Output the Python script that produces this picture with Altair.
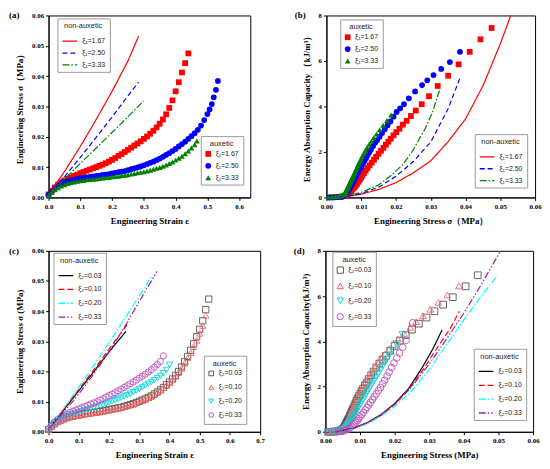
import altair as alt
import pandas as pd

SERIF = "Liberation Serif"
SANS = "Liberation Sans"

XI1 = ["ξ₁=1.67", "ξ₁=2.50", "ξ₁=3.33"]
XI2 = ["ξ₂=0.03", "ξ₂=0.10", "ξ₂=0.20", "ξ₂=0.33"]

STRAIN = [0.00, 0.01, 0.02, 0.03, 0.04, 0.05, 0.06, 0.07, 0.08, 0.09,
          0.10, 0.11, 0.12, 0.13, 0.14, 0.15, 0.16, 0.17, 0.18, 0.19,
          0.20, 0.21, 0.22, 0.23, 0.24, 0.25, 0.26, 0.27, 0.28, 0.29,
          0.30, 0.31, 0.32, 0.33, 0.34, 0.35, 0.36, 0.37, 0.38, 0.39,
          0.40, 0.41, 0.42, 0.43, 0.44, 0.45, 0.46, 0.47, 0.48, 0.49,
          0.50, 0.51, 0.52, 0.53]

# ---------------- (a) stress-strain, xi1 ----------------
a_line_167_x = [0.0, 0.05, 0.10, 0.15, 0.20, 0.25, 0.2835]
a_line_167_y = [0.0010, 0.0085, 0.0168, 0.0257, 0.0350, 0.0450, 0.0532]
a_line_250_x = [0.0, 0.05, 0.10, 0.15, 0.20, 0.25, 0.2835]
a_line_250_y = [0.0010, 0.0068, 0.0132, 0.0198, 0.0265, 0.0335, 0.0380]
a_line_333_x = [0.0, 0.05, 0.10, 0.15, 0.20, 0.25, 0.299]
a_line_333_y = [0.0010, 0.0060, 0.0112, 0.0163, 0.0214, 0.0266, 0.0318]

a_strain_167 = STRAIN[:45]
a_stress_167 = [0.0010, 0.0022, 0.0033, 0.0042, 0.0050, 0.0056, 0.0061, 0.0066, 0.0071, 0.0075,
                0.0080, 0.0084, 0.0088, 0.0092, 0.0096, 0.0100, 0.0104, 0.0108, 0.0113, 0.0118,
                0.0124, 0.0130, 0.0137, 0.0143, 0.0150, 0.0157, 0.0164, 0.0171, 0.0178, 0.0185,
                0.0193, 0.0201, 0.0210, 0.0220, 0.0231, 0.0243, 0.0257, 0.0274, 0.0295, 0.0320,
                0.0350, 0.0380, 0.0412, 0.0443, 0.0475]
a_strain_250 = STRAIN[:51] + [0.507, 0.514, 0.520, 0.527, 0.533]
a_stress_250 = [0.0008, 0.0020, 0.0030, 0.0038, 0.0044, 0.0049, 0.0053, 0.0056, 0.0059, 0.0061,
                0.0063, 0.0065, 0.0066, 0.0068, 0.0069, 0.0071, 0.0072, 0.0074, 0.0075, 0.0077,
                0.0079, 0.0081, 0.0083, 0.0085, 0.0087, 0.0090, 0.0093, 0.0096, 0.0099, 0.0102,
                0.0106, 0.0110, 0.0114, 0.0118, 0.0123, 0.0128, 0.0134, 0.0140, 0.0146, 0.0153,
                0.0160, 0.0168, 0.0176, 0.0184, 0.0193, 0.0202, 0.0212, 0.0223, 0.0237, 0.0255,
                0.0275, 0.0290, 0.0308, 0.0330, 0.0355, 0.0384]
a_strain_333 = STRAIN[:47] + [0.467]
a_stress_333 = [0.0006, 0.0016, 0.0025, 0.0032, 0.0038, 0.0042, 0.0046, 0.0049, 0.0051, 0.0053,
                0.0055, 0.0056, 0.0058, 0.0059, 0.0060, 0.0061, 0.0062, 0.0064, 0.0065, 0.0066,
                0.0068, 0.0069, 0.0070, 0.0072, 0.0073, 0.0075, 0.0077, 0.0079, 0.0081, 0.0083,
                0.0085, 0.0087, 0.0090, 0.0093, 0.0096, 0.0099, 0.0103, 0.0107, 0.0112, 0.0117,
                0.0123, 0.0129, 0.0136, 0.0144, 0.0153, 0.0163, 0.0174, 0.0186]

# ---------------- (b) energy-stress, xi1 ----------------
b_line_167_x = [0.004, 0.010, 0.015, 0.020, 0.025, 0.030, 0.035, 0.040, 0.045, 0.050, 0.053]
b_line_167_y = [0.00, 0.14, 0.35, 0.65, 1.08, 1.61, 2.45, 3.45, 4.90, 6.75, 8.00]
b_line_250_x = [0.004, 0.010, 0.015, 0.020, 0.025, 0.030, 0.035, 0.0385]
b_line_250_y = [0.00, 0.17, 0.45, 0.93, 1.58, 2.44, 3.90, 5.29]
b_line_333_x = [0.004, 0.010, 0.015, 0.0189, 0.022, 0.0246, 0.0283, 0.0305, 0.0326]
b_line_333_y = [0.00, 0.22, 0.55, 1.00, 1.45, 2.00, 3.00, 3.75, 4.74]

b_energy_167 = [0.00, 0.01, 0.02, 0.03, 0.06, 0.10, 0.15, 0.21, 0.28, 0.35,
                0.43, 0.51, 0.60, 0.69, 0.78, 0.87, 0.97, 1.07, 1.18, 1.29,
                1.41, 1.53, 1.66, 1.79, 1.92, 2.05, 2.18, 2.32, 2.45, 2.58,
                2.73, 2.87, 3.02, 3.20, 3.37, 3.58, 3.82, 4.10, 4.45, 4.90,
                5.35, 5.85, 6.40, 6.95, 7.45]
b_energy_250 = [0.00, 0.00, 0.01, 0.02, 0.03, 0.06, 0.10, 0.15, 0.21, 0.27,
                0.32, 0.37, 0.40, 0.45, 0.48, 0.53, 0.56, 0.62, 0.65, 0.71,
                0.77, 0.83, 0.89, 0.94, 1.00, 1.08, 1.16, 1.24, 1.32, 1.40,
                1.51, 1.62, 1.73, 1.84, 1.98, 2.10, 2.25, 2.40, 2.52, 2.67,
                2.83, 3.00, 3.17, 3.34, 3.55, 3.76, 3.92, 4.10, 4.36, 4.66,
                4.94, 5.15, 5.38, 5.65, 5.95, 6.40]
b_energy_333 = [0.02, 0.03, 0.04, 0.05, 0.06, 0.08, 0.11, 0.14, 0.17, 0.21,
                0.26, 0.29, 0.34, 0.37, 0.40, 0.44, 0.47, 0.53, 0.57, 0.60,
                0.67, 0.70, 0.74, 0.80, 0.83, 0.89, 0.96, 1.03, 1.09, 1.16,
                1.23, 1.30, 1.40, 1.50, 1.60, 1.69, 1.82, 1.93, 2.06, 2.19,
                2.34, 2.47, 2.62, 2.79, 2.97, 3.17, 3.38, 3.62]

# ---------------- (c) stress-strain, xi2 ----------------
c_line_003_x = [0.0, 0.05, 0.10, 0.15, 0.20, 0.256]
c_line_003_y = [0.0010, 0.0072, 0.0136, 0.0200, 0.0265, 0.0333]
c_line_010_x = [0.0, 0.05, 0.10, 0.15, 0.20, 0.267]
c_line_010_y = [0.0010, 0.0074, 0.0140, 0.0206, 0.0274, 0.0365]
c_line_020_x = [0.0, 0.05, 0.10, 0.15, 0.20, 0.25, 0.30, 0.340]
c_line_020_y = [0.0010, 0.0078, 0.0148, 0.0220, 0.0295, 0.0372, 0.0450, 0.0514]
c_line_033_x = [0.0, 0.05, 0.10, 0.15, 0.20, 0.25, 0.30, 0.359]
c_line_033_y = [0.0010, 0.0065, 0.0125, 0.0192, 0.0265, 0.0345, 0.0432, 0.0532]

c_strain_003 = STRAIN[:54]
c_stress_003 = [0.0008, 0.0018, 0.0027, 0.0034, 0.0039, 0.0043, 0.0047, 0.0050, 0.0052, 0.0054,
                0.0056, 0.0058, 0.0060, 0.0061, 0.0063, 0.0064, 0.0066, 0.0067, 0.0069, 0.0071,
                0.0073, 0.0075, 0.0077, 0.0079, 0.0081, 0.0084, 0.0087, 0.0090, 0.0093, 0.0097,
                0.0101, 0.0105, 0.0109, 0.0114, 0.0119, 0.0125, 0.0132, 0.0139, 0.0147, 0.0156,
                0.0165, 0.0175, 0.0187, 0.0200, 0.0215, 0.0232, 0.0250, 0.0270, 0.0292, 0.0315,
                0.0340, 0.0368, 0.0405, 0.0440]
c_strain_010 = STRAIN[:53]
c_stress_010 = [0.0007, 0.0017, 0.0026, 0.0033, 0.0038, 0.0042, 0.0046, 0.0049, 0.0051, 0.0053,
                0.0055, 0.0057, 0.0059, 0.0060, 0.0062, 0.0063, 0.0065, 0.0066, 0.0068, 0.0070,
                0.0072, 0.0074, 0.0076, 0.0078, 0.0080, 0.0083, 0.0086, 0.0089, 0.0092, 0.0096,
                0.0100, 0.0104, 0.0108, 0.0113, 0.0118, 0.0124, 0.0131, 0.0138, 0.0146, 0.0154,
                0.0163, 0.0173, 0.0184, 0.0196, 0.0210, 0.0227, 0.0245, 0.0262, 0.0282, 0.0303,
                0.0326, 0.0352, 0.0386]
c_strain_020 = STRAIN[:41]
c_stress_020 = [0.0008, 0.0019, 0.0029, 0.0037, 0.0043, 0.0048, 0.0052, 0.0056, 0.0059, 0.0062,
                0.0065, 0.0068, 0.0071, 0.0074, 0.0077, 0.0080, 0.0083, 0.0087, 0.0090, 0.0094,
                0.0097, 0.0101, 0.0105, 0.0109, 0.0113, 0.0117, 0.0121, 0.0126, 0.0131, 0.0136,
                0.0142, 0.0147, 0.0153, 0.0159, 0.0165, 0.0171, 0.0178, 0.0185, 0.0194, 0.0205,
                0.0222]
c_strain_033 = STRAIN[:39]
c_stress_033 = [0.0009, 0.0021, 0.0032, 0.0041, 0.0048, 0.0054, 0.0059, 0.0064, 0.0068, 0.0072,
                0.0076, 0.0080, 0.0084, 0.0088, 0.0092, 0.0096, 0.0100, 0.0105, 0.0110, 0.0115,
                0.0120, 0.0125, 0.0130, 0.0136, 0.0141, 0.0147, 0.0153, 0.0159, 0.0165, 0.0171,
                0.0178, 0.0184, 0.0191, 0.0198, 0.0206, 0.0214, 0.0223, 0.0233, 0.0252]

# ---------------- (d) energy-stress, xi2 ----------------
d_line_003_x = [0.003, 0.008, 0.012, 0.016, 0.020, 0.024, 0.028, 0.031, 0.0337]
d_line_003_y = [0.00, 0.15, 0.40, 0.75, 1.25, 1.90, 2.85, 3.65, 4.50]
d_line_010_x = [0.003, 0.008, 0.012, 0.016, 0.020, 0.024, 0.028, 0.032, 0.036, 0.0387]
d_line_010_y = [0.00, 0.15, 0.38, 0.72, 1.20, 1.85, 2.70, 3.65, 4.55, 5.33]
d_line_020_x = [0.003, 0.008, 0.012, 0.016, 0.020, 0.025, 0.030, 0.035, 0.040, 0.045, 0.0497]
d_line_020_y = [0.00, 0.12, 0.35, 0.68, 1.12, 1.82, 2.75, 3.85, 4.95, 6.00, 6.90]
d_line_033_x = [0.003, 0.008, 0.012, 0.016, 0.020, 0.025, 0.030, 0.035, 0.040, 0.045, 0.0506]
d_line_033_y = [0.00, 0.15, 0.40, 0.75, 1.22, 2.00, 3.00, 4.10, 5.25, 6.50, 8.00]

d_energy_003 = [0.00, 0.00, 0.01, 0.02, 0.03, 0.05, 0.08, 0.10, 0.14, 0.18,
                0.24, 0.30, 0.36, 0.39, 0.45, 0.48, 0.54, 0.57, 0.63, 0.70,
                0.77, 0.84, 0.91, 0.98, 1.05, 1.16, 1.26, 1.37, 1.47, 1.58,
                1.68, 1.80, 1.91, 2.05, 2.17, 2.33, 2.50, 2.66, 2.84, 3.02,
                3.19, 3.36, 3.58, 3.80, 4.03, 4.27, 4.52, 4.78, 5.05, 5.33,
                5.62, 5.95, 6.43, 6.92]
d_energy_010 = [0.00, 0.00, 0.01, 0.02, 0.03, 0.05, 0.07, 0.10, 0.13, 0.17,
                0.22, 0.28, 0.34, 0.37, 0.43, 0.46, 0.52, 0.55, 0.62, 0.69,
                0.76, 0.83, 0.90, 0.97, 1.04, 1.15, 1.26, 1.37, 1.48, 1.60,
                1.71, 1.83, 1.95, 2.09, 2.22, 2.38, 2.55, 2.72, 2.90, 3.08,
                3.26, 3.45, 3.65, 3.87, 4.10, 4.35, 4.62, 4.87, 5.13, 5.42,
                5.72, 6.05, 6.45]
d_energy_020 = [0.00, 0.00, 0.01, 0.02, 0.04, 0.06, 0.09, 0.13, 0.18, 0.23,
                0.29, 0.36, 0.43, 0.50, 0.58, 0.66, 0.74, 0.84, 0.93, 1.03,
                1.12, 1.23, 1.33, 1.44, 1.55, 1.66, 1.78, 1.90, 2.02, 2.15,
                2.29, 2.43, 2.57, 2.73, 2.89, 3.05, 3.22, 3.40, 3.60, 3.90,
                4.30]
d_energy_033 = [0.00, 0.00, 0.01, 0.02, 0.03, 0.05, 0.08, 0.11, 0.15, 0.19,
                0.24, 0.30, 0.36, 0.43, 0.50, 0.58, 0.66, 0.76, 0.86, 0.97,
                1.08, 1.19, 1.30, 1.42, 1.55, 1.68, 1.82, 1.96, 2.12, 2.28,
                2.46, 2.64, 2.84, 3.04, 3.26, 3.48, 3.74, 4.04, 4.82]

# line series carry a "line|" prefix so their legend stays separate from the marker legend
LPFX = "line|"


def long_df(series, key, prefix=""):
    rows = []
    for name, xs, ys in series:
        for xv, yv in zip(xs, ys):
            rows.append({"x": xv, "y": yv, key: prefix + name})
    return pd.DataFrame(rows)


def legend(title, lx, ly, stroke_sym, sym_size, row_pad):
    kw = dict(title=title, orient="none", legendX=lx, legendY=ly,
              strokeColor="#9a9a9a", fillColor="white", padding=4,
              labelFont=SANS, labelFontSize=7, labelColor="#222",
              titleFont=SANS, titleFontSize=7.5, titleFontWeight="normal",
              titleColor="#222", titleAnchor="middle", titlePadding=3,
              symbolSize=sym_size, rowPadding=row_pad, labelOffset=4)
    if stroke_sym:
        kw["symbolType"] = "stroke"
        kw["symbolStrokeWidth"] = 1.3
        kw["labelExpr"] = "split(datum.label, '|')[1]"
    else:
        kw["symbolStrokeWidth"] = 1
    return alt.Legend(**kw)


def panel(tag, line_df, line_dom, line_cols, line_dash, line_leg_xy, line_rowpad,
          pt_df, pt_dom, pt_cols, pt_shapes, pt_leg_xy, pt_rowpad, filled, pt_size, pt_leg_size,
          xdom, xticks, xfmt, xtitle, ydom, yticks, yfmt, ytitle, w, h, tag_dx):
    xenc = alt.X("x:Q", scale=alt.Scale(domain=xdom, nice=False, zero=False),
                 axis=alt.Axis(values=xticks, format=xfmt, title=xtitle,
                               labelFlush=False, labelOverlap=False))
    yenc = alt.Y("y:Q", scale=alt.Scale(domain=ydom, nice=False, zero=False),
                 axis=alt.Axis(values=yticks, format=yfmt, title=ytitle,
                               labelFlush=False, labelOverlap=False))
    lleg = legend("non-auxetic", line_leg_xy[0], line_leg_xy[1], True, 220, line_rowpad)
    pleg = legend("auxetic", pt_leg_xy[0], pt_leg_xy[1], False, pt_leg_size, pt_rowpad)
    ldom = [LPFX + v for v in line_dom]
    pts = alt.Chart(pt_df).mark_point(filled=filled, size=pt_size, opacity=1,
                                      strokeWidth=0.9).encode(
        x=xenc, y=yenc,
        color=alt.Color("P:N", scale=alt.Scale(domain=pt_dom, range=pt_cols), legend=pleg),
        shape=alt.Shape("P:N", scale=alt.Scale(domain=pt_dom, range=pt_shapes), legend=pleg),
    )
    lines = alt.Chart(line_df).mark_line(strokeWidth=1.2).encode(
        x=xenc, y=yenc,
        stroke=alt.Stroke("L:N", scale=alt.Scale(domain=ldom, range=line_cols), legend=lleg),
        strokeDash=alt.StrokeDash("L:N", scale=alt.Scale(domain=ldom, range=line_dash), legend=lleg),
    )
    label = alt.Chart(pd.DataFrame({"t": [tag]})).mark_text(
        font=SERIF, fontWeight="bold", fontSize=9, align="left", baseline="top", color="black"
    ).encode(text="t:N", x=alt.value(tag_dx), y=alt.value(-4))
    return alt.layer(pts, lines, label).properties(width=w, height=h)


C1 = ["#FF0000", "#0000FF", "#008000"]
D1 = [[1, 0], [5, 3], [7, 2, 1.5, 2]]
SH1 = ["square", "circle", "triangle-up"]
C2L = ["#000000", "#FF0000", "#00FFFF", "#A020A0"]
D2 = [[1, 0], [6, 3], [7, 2, 1.5, 2], [7, 2, 1.5, 2, 1.5, 2]]
C2P = ["#555555", "#FF6060", "#00DADA", "#C050C0"]
SH2 = ["square", "triangle-up", "triangle-down", "circle"]

a_lines = long_df([(XI1[0], a_line_167_x, a_line_167_y), (XI1[1], a_line_250_x, a_line_250_y),
                   (XI1[2], a_line_333_x, a_line_333_y)], "L", LPFX)
a_pts = long_df([(XI1[0], a_strain_167, a_stress_167), (XI1[1], a_strain_250, a_stress_250),
                 (XI1[2], a_strain_333, a_stress_333)], "P")
b_lines = long_df([(XI1[0], b_line_167_x, b_line_167_y), (XI1[1], b_line_250_x, b_line_250_y),
                   (XI1[2], b_line_333_x, b_line_333_y)], "L", LPFX)
b_pts = long_df([(XI1[0], a_stress_167, b_energy_167), (XI1[1], a_stress_250, b_energy_250),
                 (XI1[2], a_stress_333, b_energy_333)], "P")
c_lines = long_df([(XI2[0], c_line_003_x, c_line_003_y), (XI2[1], c_line_010_x, c_line_010_y),
                   (XI2[2], c_line_020_x, c_line_020_y), (XI2[3], c_line_033_x, c_line_033_y)], "L", LPFX)
c_pts = long_df([(XI2[0], c_strain_003, c_stress_003), (XI2[1], c_strain_010, c_stress_010),
                 (XI2[2], c_strain_020, c_stress_020), (XI2[3], c_strain_033, c_stress_033)], "P")
d_lines = long_df([(XI2[0], d_line_003_x, d_line_003_y), (XI2[1], d_line_010_x, d_line_010_y),
                   (XI2[2], d_line_020_x, d_line_020_y), (XI2[3], d_line_033_x, d_line_033_y)], "L", LPFX)
d_pts = long_df([(XI2[0], c_stress_003, d_energy_003), (XI2[1], c_stress_010, d_energy_010),
                 (XI2[2], c_stress_020, d_energy_020), (XI2[3], c_stress_033, d_energy_033)], "P")

STRESS_TICKS = [0.0, 0.01, 0.02, 0.03, 0.04, 0.05, 0.06]
ENERGY_TICKS = [0, 2, 4, 6, 8]

pa = panel("(a)", a_lines, XI1, C1, D1, (9, 3), 0, a_pts, XI1, C1, SH1, (154, 122), 4, True, 34, 34,
           [0, 0.635], [0.0, 0.1, 0.2, 0.3, 0.4, 0.5, 0.6], ".1f", "Engineering Strain ε",
           [0, 0.06], STRESS_TICKS, ".2f", "Engineering Stress σ（MPa）", 204, 184, -40)
pb = panel("(b)", b_lines, XI1, C1, D1, (150, 120), 0, b_pts, XI1, C1, SH1, (14, 4), 4, True, 34, 34,
           [0, 0.06], STRESS_TICKS, ".2f", "Engineering Stress σ（MPa）",
           [0, 8], ENERGY_TICKS, "d", "Energy Absorption Capacity （kJ/m³）", 211, 184, -32)
pc = panel("(c)", c_lines, XI2, C2L, D2, (5, 2), 2, c_pts, XI2, C2P, SH2, (157, 106), 5, False, 40, 22,
           [0, 0.7], [0.0, 0.1, 0.2, 0.3, 0.4, 0.5, 0.6, 0.7], ".1f", "Engineering Strain ε",
           [0, 0.06], STRESS_TICKS, ".2f", "Engineering Stress σ (MPa)", 214, 183, -40)
pd_ = panel("(d)", d_lines, XI2, C2L, D2, (150, 99), 2, d_pts, XI2, C2P, SH2, (7, 1), 5, False, 46, 40,
            [0, 0.06], STRESS_TICKS, ".2f", "Engineering Stress (MPa)",
            [0, 8], ENERGY_TICKS, "d", "Energy Absorption Capacity(kJ/m³)", 210, 183, -32)

RS = dict(color="independent", stroke="independent", strokeDash="independent", shape="independent")
row1 = alt.hconcat(pa, pb, spacing=43).resolve_scale(**RS).resolve_legend(**RS)
row2 = alt.hconcat(pc, pd_, spacing=28).resolve_scale(**RS).resolve_legend(**RS)
chart = alt.vconcat(row1, row2, spacing=20).resolve_scale(**RS).resolve_legend(**RS)

chart = chart.configure(background="white", padding=0).configure_view(
    stroke="black", strokeWidth=1
).configure_axis(
    grid=False, domainColor="black", domainWidth=1, tickColor="black", tickSize=3,
    labelFont=SERIF, labelFontWeight="bold", labelFontSize=7, labelColor="black", labelPadding=2,
    titleFont=SERIF, titleFontWeight="bold", titleFontSize=9, titleColor="black", titlePadding=7,
)

chart.save("out.html", embed_options={"renderer": "svg", "actions": False})
